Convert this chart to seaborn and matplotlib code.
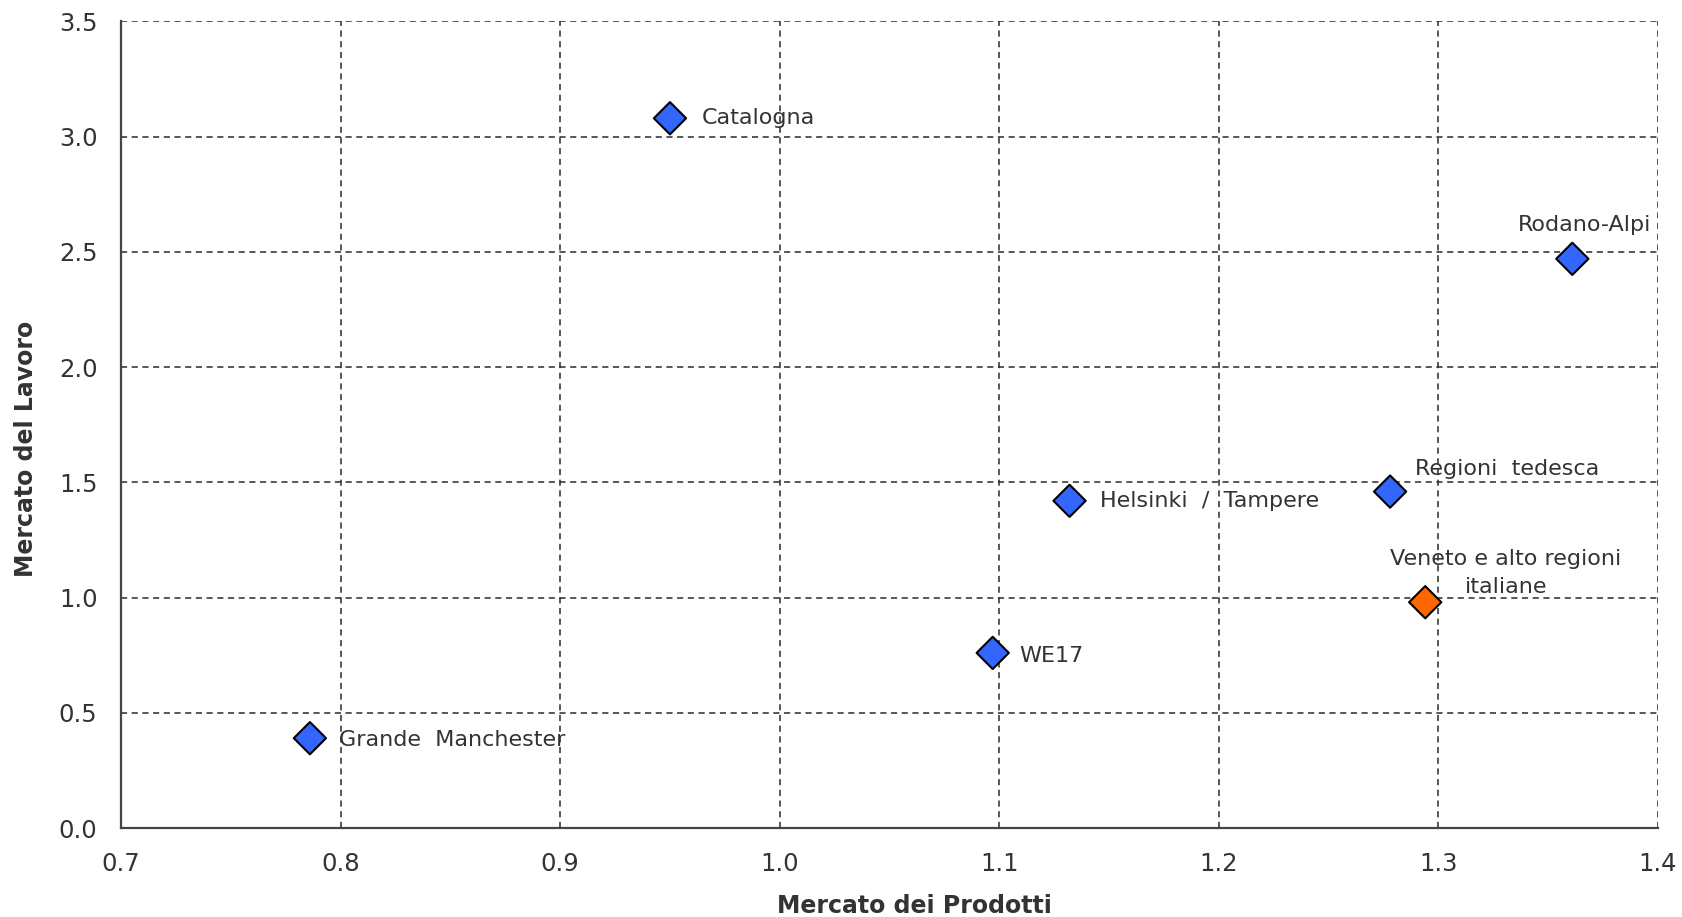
import pandas as pd
import seaborn as sns
import matplotlib.pyplot as plt
from matplotlib.ticker import FormatStrFormatter

# values
regioni = ["Catalogna", "Rodano-Alpi", "Helsinki  /  Tampere", "Regioni  tedesca",
           "Veneto e alto regioni\nitaliane", "WE17", "Grande  Manchester"]
prodotti = [0.950, 1.361, 1.132, 1.278, 1.294, 1.097, 0.786]
lavoro = [3.08, 2.47, 1.42, 1.46, 0.98, 0.76, 0.39]
gruppo = ["altre", "altre", "altre", "altre", "italia", "altre", "altre"]

df = pd.DataFrame({"Regione": regioni, "Prodotti": prodotti,
                   "Lavoro": lavoro, "Gruppo": gruppo})

sns.set_style("white")
plt.rcParams['font.family'] = ['DejaVu Sans']
txt = "#333333"

fig, ax = plt.subplots(figsize=(16.82, 9.17), dpi=100)
fig.subplots_adjust(left=0.072, right=0.9857, bottom=0.097, top=0.9766)

sns.scatterplot(data=df, x="Prodotti", y="Lavoro", hue="Gruppo",
                palette={"altre": "#3366ff", "italia": "#ff6600"},
                marker="D", s=270, edgecolor="black", linewidth=1.5,
                legend=False, zorder=3, ax=ax)

# label offsets in points (dx, dy, ha)
offs = {
    "Catalogna": (23, 0, "left"),
    "Rodano-Alpi": (9, 24, "center"),
    "Helsinki  /  Tampere": (22, 0, "left"),
    "Regioni  tedesca": (84, 16, "center"),
    "Veneto e alto regioni\nitaliane": (58, 21, "center"),
    "WE17": (19, -2, "left"),
    "Grande  Manchester": (21, -1, "left"),
}
for r, xv, yv in zip(regioni, prodotti, lavoro):
    dx, dy, ha = offs[r]
    ax.annotate(r, (xv, yv), xytext=(dx, dy), textcoords="offset points",
                ha=ha, va="center", fontsize=16, color=txt,
                linespacing=1.45, zorder=4)

ax.set_xlim(0.7, 1.4)
ax.set_ylim(0, 3.5)
ax.set_xticks([0.7, 0.8, 0.9, 1.0, 1.1, 1.2, 1.3, 1.4])
ax.set_yticks([0, 0.5, 1.0, 1.5, 2.0, 2.5, 3.0, 3.5])
ax.xaxis.set_major_formatter(FormatStrFormatter("%.1f"))
ax.yaxis.set_major_formatter(FormatStrFormatter("%.1f"))
ax.tick_params(axis="x", labelsize=17.5, labelcolor=txt, length=0, pad=17)
ax.tick_params(axis="y", labelsize=17.5, labelcolor=txt, length=0, pad=17)
ax.grid(True, linestyle=(0, (4, 3)), color="#2a2a2a", linewidth=1.1)
ax.set_axisbelow(True)

for s in ["top", "right"]:
    ax.spines[s].set_visible(False)
for s in ["left", "bottom"]:
    ax.spines[s].set_color("#444444")
    ax.spines[s].set_linewidth(1.6)

ax.set_xlabel("Mercato dei Prodotti", fontsize=17, fontweight="bold", color=txt)
ax.set_ylabel("Mercato del Lavoro", fontsize=17, fontweight="bold", color=txt)
ax.xaxis.set_label_coords(0.516, -0.082)
ax.yaxis.set_label_coords(-0.054, 0.47)

plt.savefig("out.png", dpi=100)
